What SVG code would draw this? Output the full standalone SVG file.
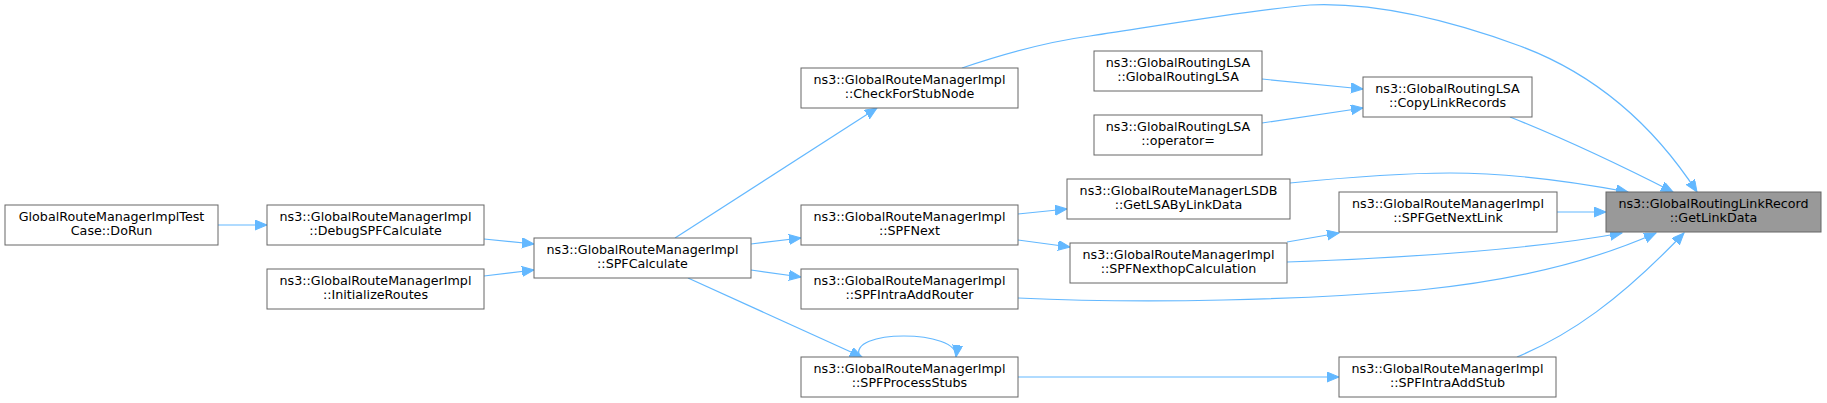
<svg xmlns="http://www.w3.org/2000/svg" width="1827" height="403" viewBox="0 0 1827 403">
<style>
.n rect{fill:#ffffff;stroke:#666666;stroke-width:1}
.n text{font-family:"DejaVu Sans","Liberation Sans",sans-serif;font-size:12.7px;fill:#000000;text-anchor:middle}
#n_target rect{fill:#999999}
.e path{fill:none;stroke:#63b8ff;stroke-width:1.2}
</style>
<defs>
<marker id="ah" markerUnits="userSpaceOnUse" markerWidth="13" markerHeight="11" refX="12" refY="5" orient="auto">
<path d="M0,0 L12,5 L0,10 z" fill="#63b8ff" stroke="#63b8ff" stroke-width="1"/>
</marker>
</defs>
<rect width="1827" height="403" fill="#ffffff"/>
<g id="edges" class="e">
<path marker-end="url(#ah)" d="M218,225 L267,225"/>
<path marker-end="url(#ah)" d="M484,239 L534,244"/>
<path marker-end="url(#ah)" d="M484,276 L534,270"/>
<path marker-end="url(#ah)" d="M675,238 L877,108"/>
<path marker-end="url(#ah)" d="M751,244 L801,238"/>
<path marker-end="url(#ah)" d="M751,270 L801,277"/>
<path marker-end="url(#ah)" d="M688,278 L862,357"/>
<path marker-end="url(#ah)" d="M860,357 C845,329 960,329 956,357"/>
<path marker-end="url(#ah)" d="M1018,214 L1067,209"/>
<path marker-end="url(#ah)" d="M1018,240 L1070,247"/>
<path marker-end="url(#ah)" d="M1018,377 L1339,377"/>
<path marker-end="url(#ah)" d="M1262,79 L1363,89"/>
<path marker-end="url(#ah)" d="M1262,123 L1363,108"/>
<path marker-end="url(#ah)" d="M1287,242 L1339,233"/>
<path marker-end="url(#ah)" d="M962,68 C1003,54 1046,42 1090,36 C1170,24 1250,10 1310,5 C1380,2 1460,24 1520,46 C1590,72 1650,120 1697,192"/>
<path marker-end="url(#ah)" d="M1510,117 C1560,137 1620,165 1673,192"/>
<path marker-end="url(#ah)" d="M1290,183 C1340,178 1400,173 1450,173 C1510,173 1570,181 1628,192"/>
<path marker-end="url(#ah)" d="M1557,212 L1606,212"/>
<path marker-end="url(#ah)" d="M1287,262 C1400,258 1530,250 1622,233"/>
<path marker-end="url(#ah)" d="M1018,298 C1150,304 1300,300 1420,290 C1520,280 1600,258 1656,233"/>
<path marker-end="url(#ah)" d="M1517,357 C1570,335 1620,300 1684,233"/>
</g>
<g id="n_dorun" class="n"><rect x="5" y="205" width="213" height="40"/><text x="111.5" y="221">GlobalRouteManagerImplTest</text><text x="111.5" y="235">Case::DoRun</text></g>
<g id="n_debug" class="n"><rect x="267" y="205" width="217" height="40"/><text x="375.5" y="221">ns3::GlobalRouteManagerImpl</text><text x="375.5" y="235">::DebugSPFCalculate</text></g>
<g id="n_init" class="n"><rect x="267" y="269" width="217" height="40"/><text x="375.5" y="285">ns3::GlobalRouteManagerImpl</text><text x="375.5" y="299">::InitializeRoutes</text></g>
<g id="n_spfcalc" class="n"><rect x="534" y="238" width="217" height="40"/><text x="642.5" y="254">ns3::GlobalRouteManagerImpl</text><text x="642.5" y="268">::SPFCalculate</text></g>
<g id="n_check" class="n"><rect x="801" y="68" width="217" height="40"/><text x="909.5" y="84">ns3::GlobalRouteManagerImpl</text><text x="909.5" y="98">::CheckForStubNode</text></g>
<g id="n_spfnext" class="n"><rect x="801" y="205" width="217" height="40"/><text x="909.5" y="221">ns3::GlobalRouteManagerImpl</text><text x="909.5" y="235">::SPFNext</text></g>
<g id="n_addrouter" class="n"><rect x="801" y="269" width="217" height="40"/><text x="909.5" y="285">ns3::GlobalRouteManagerImpl</text><text x="909.5" y="299">::SPFIntraAddRouter</text></g>
<g id="n_procstubs" class="n"><rect x="801" y="357" width="217" height="40"/><text x="909.5" y="373">ns3::GlobalRouteManagerImpl</text><text x="909.5" y="387">::SPFProcessStubs</text></g>
<g id="n_lsa" class="n"><rect x="1094" y="51" width="168" height="40"/><text x="1178" y="67">ns3::GlobalRoutingLSA</text><text x="1178" y="81">::GlobalRoutingLSA</text></g>
<g id="n_op" class="n"><rect x="1094" y="115" width="168" height="40"/><text x="1178" y="131">ns3::GlobalRoutingLSA</text><text x="1178" y="145">::operator=</text></g>
<g id="n_copy" class="n"><rect x="1363" y="77" width="169" height="40"/><text x="1447.5" y="93">ns3::GlobalRoutingLSA</text><text x="1447.5" y="107">::CopyLinkRecords</text></g>
<g id="n_getlsa" class="n"><rect x="1067" y="179" width="223" height="40"/><text x="1178.5" y="195">ns3::GlobalRouteManagerLSDB</text><text x="1178.5" y="209">::GetLSAByLinkData</text></g>
<g id="n_nexthop" class="n"><rect x="1070" y="243" width="217" height="40"/><text x="1178.5" y="259">ns3::GlobalRouteManagerImpl</text><text x="1178.5" y="273">::SPFNexthopCalculation</text></g>
<g id="n_getnext" class="n"><rect x="1339" y="192" width="218" height="40"/><text x="1448" y="208">ns3::GlobalRouteManagerImpl</text><text x="1448" y="222">::SPFGetNextLink</text></g>
<g id="n_addstub" class="n"><rect x="1339" y="357" width="217" height="40"/><text x="1447.5" y="373">ns3::GlobalRouteManagerImpl</text><text x="1447.5" y="387">::SPFIntraAddStub</text></g>
<g id="n_target" class="n"><rect x="1606" y="192" width="215" height="40"/><text x="1713.5" y="208">ns3::GlobalRoutingLinkRecord</text><text x="1713.5" y="222">::GetLinkData</text></g>
</svg>
